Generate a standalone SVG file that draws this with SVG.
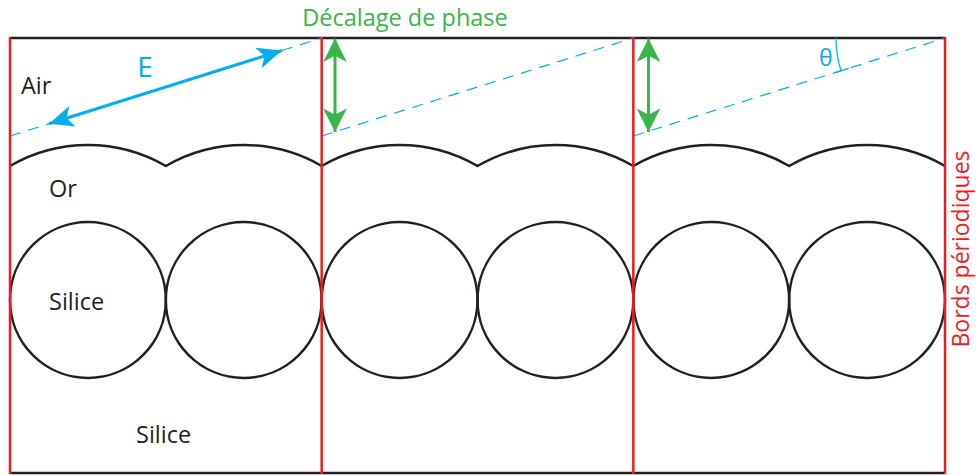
<svg xmlns="http://www.w3.org/2000/svg" width="976" height="475" viewBox="0 0 976 475">
<style>
.blk{fill:none;stroke:#231f20;stroke-width:2.5}
.red{fill:none;stroke:#ed1c24;stroke-width:2.5}
.dash{fill:none;stroke:#00aeef;stroke-width:1.2;stroke-dasharray:11 8}
.lbl{font-family:"Open Sans","Noto Sans","Liberation Sans",sans-serif;font-size:23.5px;fill:#231f20}
</style>
<defs>
<marker id="ab" markerUnits="userSpaceOnUse" markerWidth="30" markerHeight="30" viewBox="-26 -12 28 24" refX="0" refY="0" orient="auto-start-reverse">
<path d="M0,0 L-23,-10 L-17,0 L-23,10 Z" fill="#00aeef"/>
</marker>
<marker id="ag" markerUnits="userSpaceOnUse" markerWidth="30" markerHeight="30" viewBox="-26 -13 28 26" refX="0" refY="0" orient="auto-start-reverse">
<path d="M0,0 L-22,-11 L-16,0 L-22,11 Z" fill="#39b54a"/>
</marker>
</defs>
<rect width="976" height="475" fill="#ffffff"/>
<g id="frame">
<line class="blk" x1="10" y1="38" x2="945" y2="38"/>
<line class="blk" x1="10" y1="473" x2="945" y2="473"/>
</g>
<g id="gold-surface">
<path class="blk" d="M10,166 A155,155 0 0 1 165.83,166 A155,155 0 0 1 321.67,166 A155,155 0 0 1 477.5,166 A155,155 0 0 1 633.33,166 A155,155 0 0 1 789.17,166 A155,155 0 0 1 945,166"/>
</g>
<g id="spheres">
<circle class="blk" cx="87.92" cy="300" r="77.9"/>
<circle class="blk" cx="243.75" cy="300" r="77.9"/>
<circle class="blk" cx="399.58" cy="300" r="77.9"/>
<circle class="blk" cx="555.42" cy="300" r="77.9"/>
<circle class="blk" cx="711.25" cy="300" r="77.9"/>
<circle class="blk" cx="867.08" cy="300" r="77.9"/>
</g>
<g id="wavefronts">
<line class="dash" x1="10" y1="136" x2="321.67" y2="38"/>
<line class="dash" x1="321.67" y1="136" x2="633.33" y2="38"/>
<line class="dash" x1="633.33" y1="136" x2="945" y2="38"/>
</g>
<g id="theta">
<path d="M836,38 A109,109 0 0 0 841,70.8" fill="none" stroke="#00aeef" stroke-width="1.2"/>
<line x1="835.3" y1="72.6" x2="848.7" y2="68.4" stroke="#00aeef" stroke-width="1.2"/>
<text x="819" y="65.5" style="font-family:'Open Sans','Noto Sans',sans-serif;font-size:23px;fill:#00aeef">θ</text>
</g>
<g id="connectors">
<line x1="49" y1="123.7" x2="282" y2="50.5" stroke="#00aeef" stroke-width="3" marker-start="url(#ab)" marker-end="url(#ab)"/>
<line x1="335" y1="38.5" x2="335" y2="132" stroke="#39b54a" stroke-width="3" marker-start="url(#ag)" marker-end="url(#ag)"/>
<line x1="648.5" y1="38.5" x2="648.5" y2="132" stroke="#39b54a" stroke-width="3" marker-start="url(#ag)" marker-end="url(#ag)"/>
</g>
<g id="periodic-borders">
<line class="red" x1="10" y1="37" x2="10" y2="474"/>
<line class="red" x1="321.67" y1="37" x2="321.67" y2="474"/>
<line class="red" x1="633.33" y1="37" x2="633.33" y2="474"/>
<line class="red" x1="945" y1="37" x2="945" y2="474"/>
</g>
<g id="labels">
<text class="lbl" x="21" y="94">Air</text>
<text class="lbl" x="49" y="197">Or</text>
<text class="lbl" x="49" y="310">Silice</text>
<text class="lbl" x="136" y="443">Silice</text>
<text x="145" y="77" style="font-family:'Open Sans','Noto Sans',sans-serif;font-size:28px;fill:#00aeef" text-anchor="middle">E</text>
<text x="405" y="26" style="font-family:'Open Sans','Noto Sans',sans-serif;font-size:23.5px;fill:#39b54a" text-anchor="middle">Décalage de phase</text>
<text transform="translate(969,249) rotate(-90)" x="0" y="0" style="font-family:'Open Sans','Noto Sans',sans-serif;font-size:23px;fill:#ed1c24" text-anchor="middle">Bords périodiques</text>
</g>
</svg>
